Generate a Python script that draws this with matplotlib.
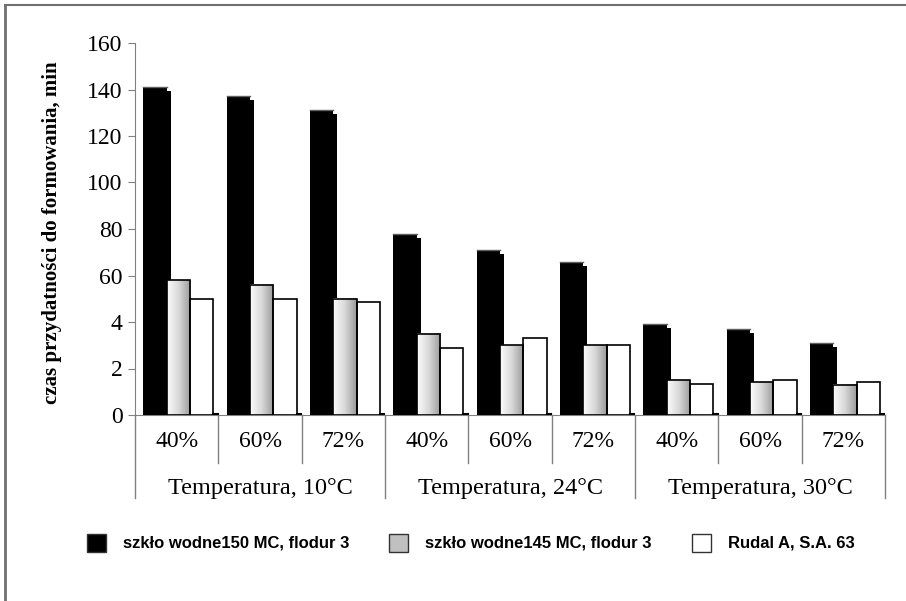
import numpy as np
import matplotlib
matplotlib.use("Agg")
import matplotlib.pyplot as plt
from matplotlib.patches import Rectangle
from matplotlib.lines import Line2D

# data (in axis units)
humidity = ["40%", "60%", "72%"] * 3
temperatures = ["Temperatura, 10°C", "Temperatura, 24°C", "Temperatura, 30°C"]
series_names = ["szkło wodne150 MC, flodur 3", "szkło wodne145 MC, flodur 3", "Rudal A, S.A. 63"]
black_vals = [141, 137, 131, 78, 71, 66, 39, 37, 31]
gray_vals = [58, 56, 50, 35, 30, 30, 15, 14, 13]
white_vals = [50, 50, 48.5, 29, 33, 30, 13.5, 15, 14]
ytick_vals = [0, 20, 40, 60, 80, 100, 120, 140, 160]
ytick_labels = ["0", "2", "4", "60", "80", "100", "120", "140", "160"]

SERIF = "Liberation Serif"
SANS = "Liberation Sans"
AXC = "#808080"

fig = plt.figure(figsize=(9.06, 6.01), dpi=100)
ax = fig.add_axes([135 / 906, 1 - 415 / 601, 750 / 906, 372 / 601])

bw = 0.28
sx = 0.05   # shadow offset in x (category units)
sy = 1.7    # shadow offset in y (data units)
grad = np.linspace(0, 1, 64).reshape(1, -1)
gray_cmap = matplotlib.colors.LinearSegmentedColormap.from_list("g", ["#fbfbfb", "#d8d8d8", "#9a9a9a"])

for i in range(len(humidity)):
    x_b = i + 0.1
    x_g = x_b + bw
    x_w = x_g + bw
    # black bar with its offset shadow
    ax.add_patch(Rectangle((x_b + sx, 0), bw, black_vals[i] - sy, facecolor="black", edgecolor="none", zorder=2))
    ax.add_patch(Rectangle((x_b, 0), bw, black_vals[i], facecolor="black", edgecolor="none", zorder=3))
    ax.plot([x_b, x_b + bw], [black_vals[i], black_vals[i]], color="#606060", lw=1, zorder=3.5)
    # gray bar with a white-to-gray gradient
    ax.imshow(grad, extent=[x_g, x_g + bw, 0, gray_vals[i]], aspect="auto",
              cmap=gray_cmap, zorder=4, interpolation="bilinear")
    ax.add_patch(Rectangle((x_g, 0), bw, gray_vals[i], facecolor="none", edgecolor="black", lw=1.2, zorder=4.5))
    # white bar
    ax.add_patch(Rectangle((x_w, 0), bw, white_vals[i], facecolor="white", edgecolor="black", lw=1.2, zorder=4))
    ax.plot([x_w + bw, x_w + bw + sx], [0.3, 0.3], color="black", lw=1.5, zorder=4)

ax.set_xlim(0, len(humidity))
ax.set_ylim(0, 160)
ax.set_yticks(ytick_vals)
ax.set_yticklabels(ytick_labels, fontfamily=SERIF, fontsize=17)
ax.tick_params(axis="y", direction="out", length=5, color=AXC, pad=4)
ax.set_xticks([])
for s in ["top", "right"]:
    ax.spines[s].set_visible(False)
ax.spines["left"].set_color(AXC)
ax.spines["bottom"].set_color(AXC)

fig.text(52 / 906, 1 - 233 / 601, "czas przydatności do formowania, min", rotation=90,
         fontfamily=SERIF, fontsize=15, fontweight="bold", ha="center", va="center")

# category labels and divider lines below the axis
tr = ax.get_xaxis_transform()
for i, lab in enumerate(humidity):
    ax.text(i + 0.5, -0.07, lab, transform=tr, ha="center", va="center",
            fontfamily=SERIF, fontsize=17)
for i in range(len(humidity) + 1):
    bottom = -0.222 if i % 3 == 0 else -0.13
    ax.add_line(Line2D([i, i], [0, bottom], transform=tr, color=AXC, lw=1, clip_on=False))
for j, lab in enumerate(temperatures):
    ax.text(3 * j + 1.5, -0.197, lab, transform=tr, ha="center", va="center",
            fontfamily=SERIF, fontsize=17.5)

# legend drawn by hand at the bottom
leg_y = 1 - 543 / 601
leg_x = [87, 389, 692]
leg_fc = ["black", "#c0c0c0", "white"]
for x, fc, name in zip(leg_x, leg_fc, series_names):
    fig.patches.append(Rectangle((x / 906, leg_y - 9 / 601), 19 / 906, 18 / 601,
                                 facecolor=fc, edgecolor="#333333", lw=1, transform=fig.transFigure))
    fig.text((x + 36) / 906, leg_y, name, fontfamily=SANS, fontsize=12,
             fontweight="bold", va="center", ha="left")

# frame lines at the left and top of the picture
fig.add_artist(Line2D([5 / 906, 5 / 906], [0, 1 - 5 / 601], color="#707070", lw=2))
fig.add_artist(Line2D([5 / 906, 1], [1 - 5 / 601, 1 - 5 / 601], color="#707070", lw=1.5))

fig.savefig("out.png", dpi=100)
